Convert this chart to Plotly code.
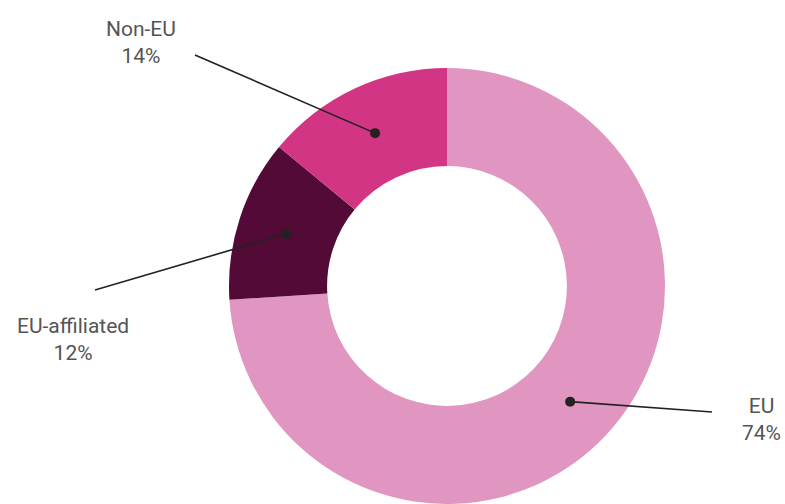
import math
import plotly.graph_objects as go

labels = ["EU", "EU-affiliated", "Non-EU"]
values = [74, 12, 14]
colors = ["#E096C0", "#540A36", "#D33585"]

W, H = 785, 504
HOLE = 0.55
dom_x = [226 / W, 668 / W]
dom_y = [0.0, 1 - 68 / H]

# label text centres and leader-line outer ends (pixels)
label_pos = {"EU": (761, 419), "EU-affiliated": (73, 339), "Non-EU": (141, 42)}
line_end = {"EU": (712, 412), "EU-affiliated": (95, 290), "Non-EU": (195, 55)}

fig = go.Figure(go.Pie(
    labels=labels, values=values, sort=False, direction="clockwise", rotation=0,
    hole=HOLE, marker=dict(colors=colors, line=dict(width=0)),
    textinfo="none", hoverinfo="label+percent", domain=dict(x=dom_x, y=dom_y),
))

# geometry in pixels
cx = (dom_x[0] + dom_x[1]) / 2 * W
cy = H - (dom_y[0] + dom_y[1]) / 2 * H
R = min((dom_x[1] - dom_x[0]) * W, (dom_y[1] - dom_y[0]) * H) / 2
rmid = (R + HOLE * R) / 2

total = sum(values)
cum = 0
shapes = []
annotations = []
for lab, v in zip(labels, values):
    mid = (cum + v / 2) / total * 2 * math.pi
    cum += v
    px = cx + rmid * math.sin(mid)
    py = cy - rmid * math.cos(mid)
    ex, ey = line_end[lab]
    shapes.append(dict(type="line", xref="paper", yref="paper",
                       x0=px / W, y0=1 - py / H, x1=ex / W, y1=1 - ey / H,
                       line=dict(color="#222222", width=1.6)))
    r = 5
    shapes.append(dict(type="circle", xref="paper", yref="paper",
                       x0=(px - r) / W, x1=(px + r) / W,
                       y0=1 - (py + r) / H, y1=1 - (py - r) / H,
                       fillcolor="#222222", line=dict(width=0)))
    tx, ty = label_pos[lab]
    annotations.append(dict(xref="paper", yref="paper", x=tx / W, y=1 - ty / H,
                            xanchor="center", yanchor="middle", showarrow=False,
                            text=f"{lab}<br>{round(v / total * 100)}%",
                            font=dict(size=21, color="#555555", family="Roboto")))

fig.update_layout(width=W, height=H, margin=dict(l=0, r=0, t=0, b=0),
                  paper_bgcolor="white", plot_bgcolor="white", showlegend=False,
                  shapes=shapes, annotations=annotations)
fig.write_html("out.html")
